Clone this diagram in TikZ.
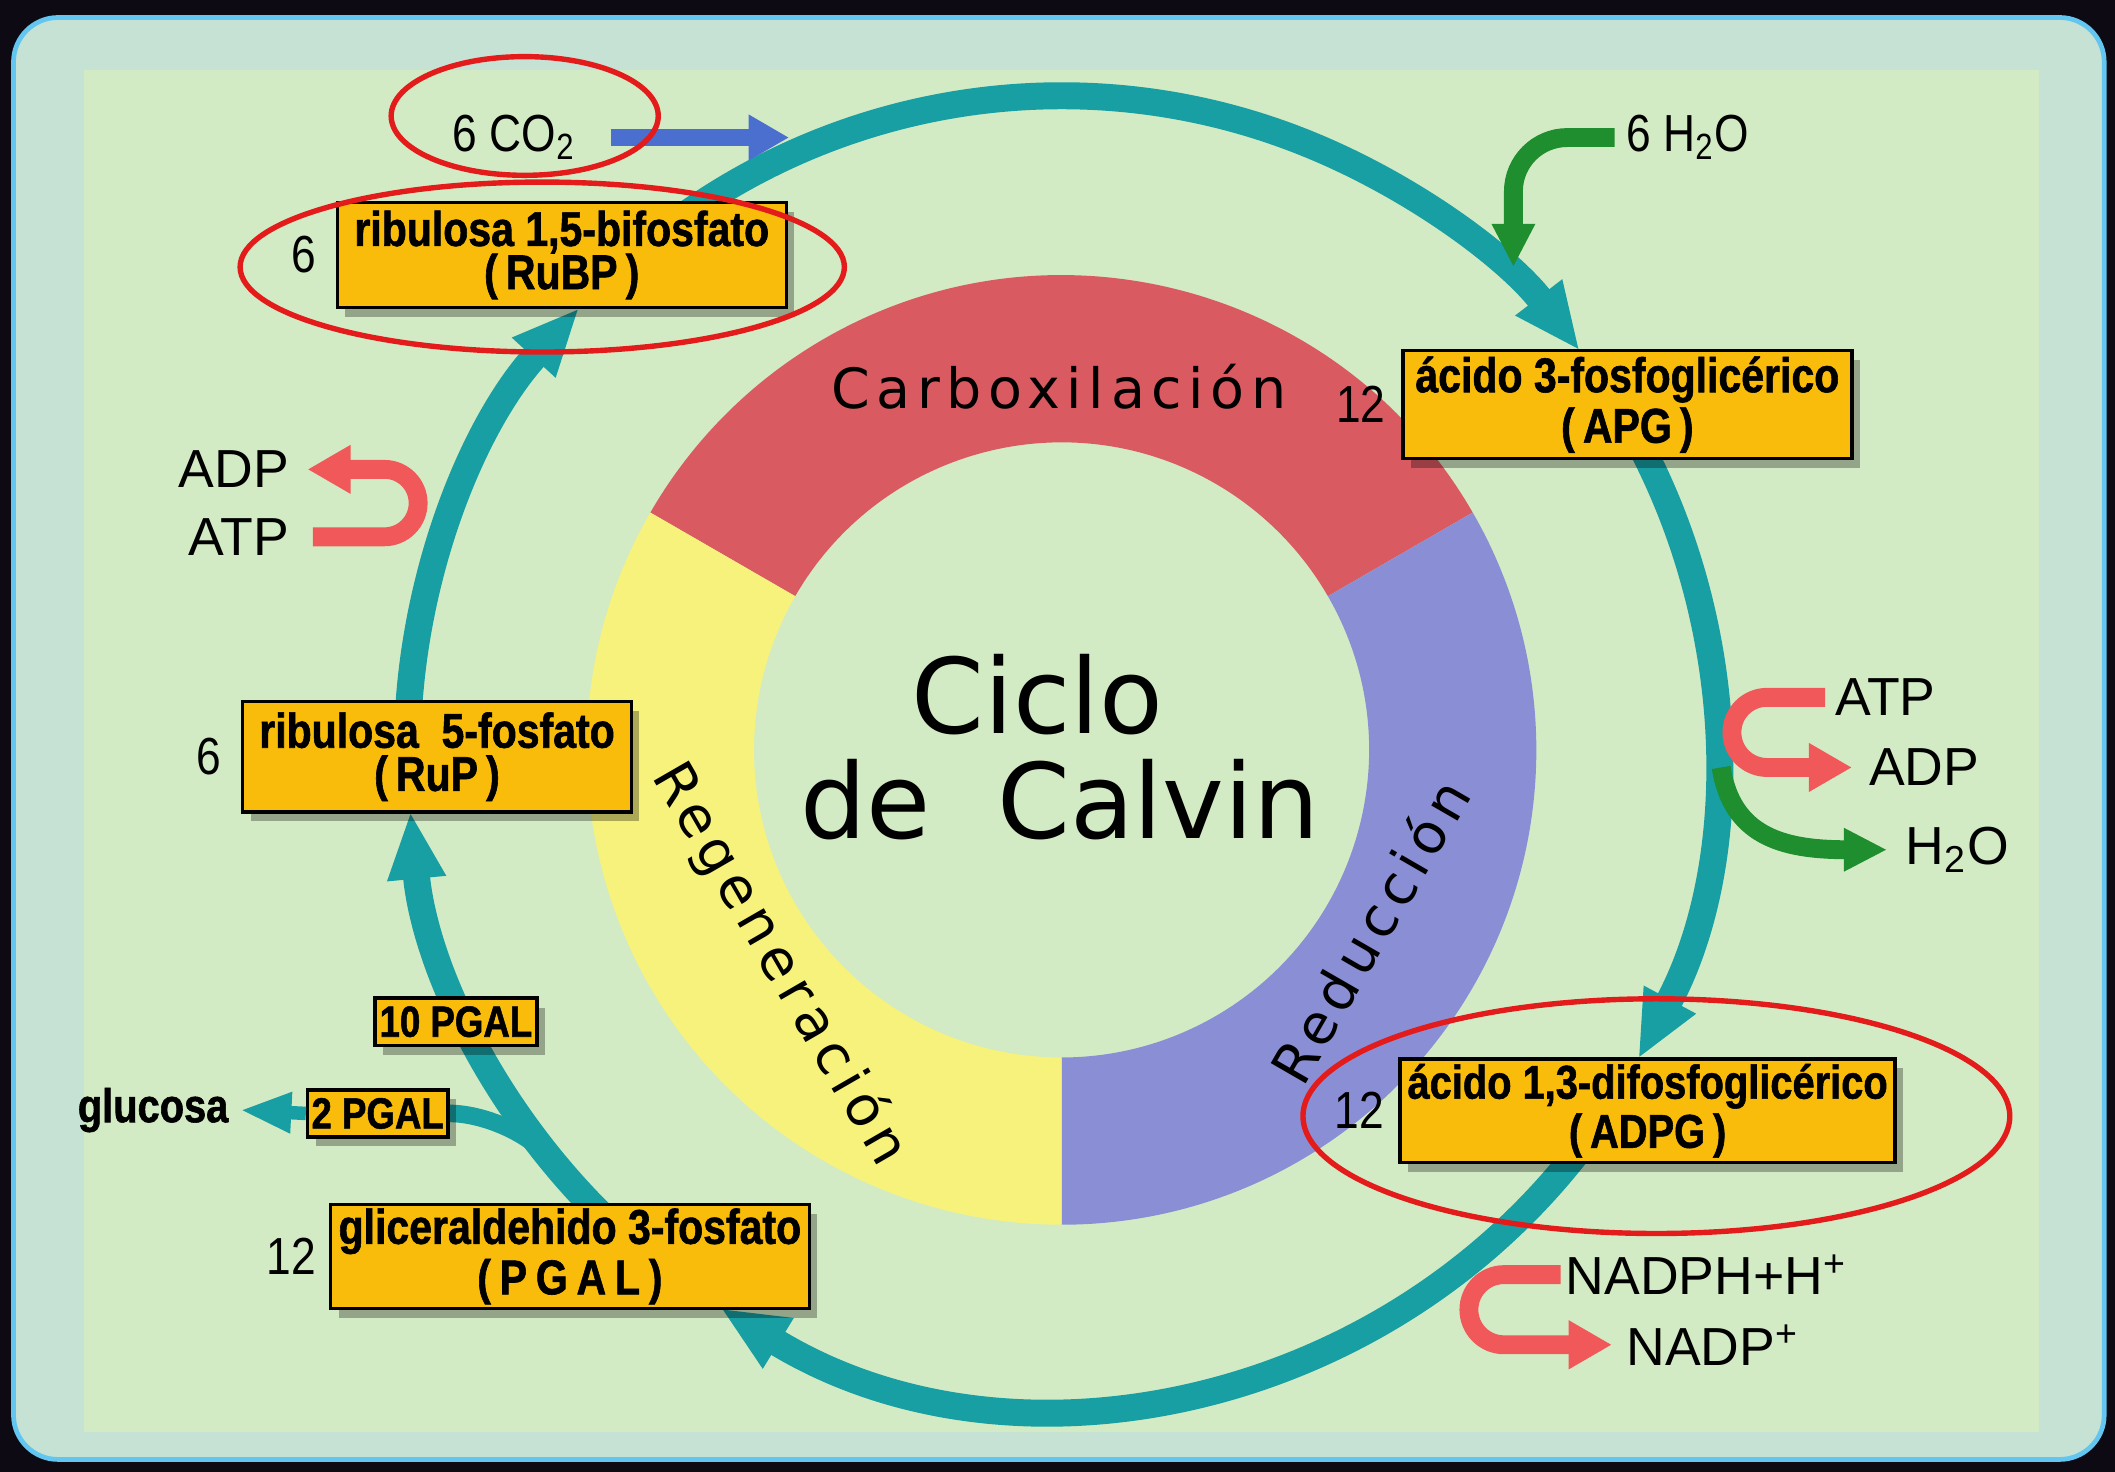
\documentclass[tikz,border=0pt]{standalone}
\usepackage{fontspec}
\setmainfont{Liberation Sans}
\newfontfamily\condfont{Liberation Sans}[FakeStretch=0.84, FakeBold=1.2]
\newfontfamily\numfont{Liberation Sans}[FakeStretch=0.85]
\newfontfamily\phasefont{DejaVu Sans}[LetterSpace=12]
\newfontfamily\titlefont{DejaVu Sans}
\usetikzlibrary{arrows.meta,shadows,calc}

\definecolor{bgdark}{HTML}{0E0A14}
\definecolor{frameblue}{HTML}{62C6F0}
\definecolor{bandgreen}{HTML}{C6E2D4}
\definecolor{panelgreen}{HTML}{D3EBC4}
\definecolor{tealc}{HTML}{179FA3}
\definecolor{boxfill}{HTML}{F9BC0A}
\definecolor{markred}{HTML}{E41B1B}
\definecolor{segred}{HTML}{DA5A62}
\definecolor{segblue}{HTML}{8A8FD5}
\definecolor{segyellow}{HTML}{F6F27C}
\definecolor{arrowred}{HTML}{F0585A}
\definecolor{arrowgreen}{HTML}{1E8E2E}
\definecolor{arrowblue}{HTML}{4B6FCF}

\tikzset{
  box/.style={draw=black, line width=0.25mm, fill=boxfill, inner sep=0pt, align=center,
    font=\condfont\bfseries\fontsize{10.3}{9.1}\selectfont,
    drop shadow={shadow xshift=0.6mm, shadow yshift=-0.7mm, fill=black, opacity=0.3}},
  smallbox/.style={box, font=\condfont\bfseries\fontsize{9.2}{9}\selectfont},
  num/.style={inner sep=0pt, font=\numfont\fontsize{11}{13}\selectfont},
  lbl/.style={inner sep=0pt, font=\fontsize{11.3}{13}\selectfont},
  condlbl/.style={inner sep=0pt, font=\condfont\bfseries\fontsize{10}{11}\selectfont},
  phase/.style={inner sep=0pt, font=\phasefont\fontsize{11.7}{14}\selectfont},
  titletext/.style={inner sep=0pt, font=\titlefont\fontsize{22}{26}\selectfont},
  ringarrow/.style={draw=tealc, line width=2mm, -{Triangle[width=4mm,length=5mm]}},
  tealbranch/.style={draw=tealc, line width=1.3mm},
  tealthin/.style={draw=tealc, line width=1mm, -{Triangle[width=2.8mm,length=3.8mm]}},
  redarrow/.style={draw=arrowred, line width=1.4mm, -{Triangle[width=3.4mm,length=3.2mm]}},
  greenarrow/.style={draw=arrowgreen, line width=1.4mm, -{Triangle[width=3mm,length=3.2mm]}},
  bluearrow/.style={draw=arrowblue, line width=1.3mm, -{Triangle[width=3.2mm,length=3mm]}},
  redmark/.style={draw=markred, line width=0.4mm}
}

\begin{document}
\begin{tikzpicture}[x=0.1mm,y=0.1mm]
% background and frame
\fill[bgdark] (0,0) rectangle (1568,1091);
\useasboundingbox (0,0) rectangle (1568,1091);
\draw[draw=frameblue, line width=0.35mm, fill=bandgreen, rounded corners=3.3mm] (10,9) rectangle (1560,1078);
\fill[panelgreen] (62,29) rectangle (1512,1039);

\coordinate (C) at (787,535);

% coloured phase ring
\fill[segred] ($(C)+(30:352)$) arc[start angle=30,end angle=150,radius=352]
   -- ($(C)+(150:228)$) arc[start angle=150,end angle=30,radius=228] -- cycle;
\fill[segblue] ($(C)+(-90:352)$) arc[start angle=-90,end angle=30,radius=352]
   -- ($(C)+(30:228)$) arc[start angle=30,end angle=-90,radius=228] -- cycle;
\fill[segyellow] ($(C)+(150:352)$) arc[start angle=150,end angle=270,radius=352]
   -- ($(C)+(270:228)$) arc[start angle=270,end angle=150,radius=228] -- cycle;

% phase names and title
\node[phase] (carb) at (785,804) {Carboxilación};
\node[phase, rotate=-60] (regen) at (578,376) {Regeneración};
\node[phase, rotate=60] (reduc) at (1015,401) {Reducción};
\node[titletext] (ciclo) at (769,576) {Ciclo};
\node[titletext] (calvin) at (786,498) {de\ \ Calvin};

% teal cycle arrows
\draw[ringarrow] ($(C)+(128:485)$) arc[start angle=128,end angle=37.6,radius=485];
\draw[ringarrow] ($(C)+(28:485)$) arc[start angle=28,end angle=-28.2,radius=485];
\draw[ringarrow] ($(C)+(-36:485)$) arc[start angle=-36,end angle=-121.4,radius=485];
\draw[ringarrow] ($(C)+(-133:485)$) arc[start angle=-133,end angle=-174.6,radius=485];
\draw[ringarrow] ($(C)+(178:485)$) arc[start angle=178,end angle=137.5,radius=485];

% labels
\node[num, anchor=west] (co2) at (335,989) {6 CO\textsubscript{2}};
\node[num, anchor=west] (h2o6) at (1205,989) {6 H\textsubscript{2}O};
\node[lbl, anchor=east] (adpL) at (215,743) {ADP};
\node[lbl, anchor=east] (atpL) at (215,693) {ATP};
\node[lbl, anchor=west] (atpR) at (1360,574) {ATP};
\node[lbl, anchor=west] (adpR) at (1385,522) {ADP};
\node[lbl, anchor=west] (h2oR) at (1412,461) {H\textsubscript{2}O};
\node[lbl, anchor=west] (nadph) at (1160,146) {NADPH+H\textsuperscript{+}};
\node[lbl, anchor=west] (nadp) at (1205,94) {NADP\textsuperscript{+}};
\node[condlbl, anchor=east] (glucosa) at (170,268) {glucosa};

% side arrows
\coordinate (co2tip) at (585,989);
\draw[bluearrow] ([xshift=2.5mm]co2.east) -- (co2tip);
\coordinate (h2otip) at (1122,893);
\draw[greenarrow] ([xshift=-0.8mm]h2o6.west) -- (1162,989) arc[start angle=90,end angle=180,radius=40] -- (h2otip);
\draw[redarrow] ([xshift=1.7mm]atpL.east) -- (285,693) arc[start angle=-90,end angle=90,radius=25] -- ([xshift=1.3mm]adpL.east);
\draw[redarrow] ([xshift=-0.7mm]atpR.west) -- (1310,574) arc[start angle=90,end angle=270,radius=26] -- ([xshift=-1.2mm]adpR.west);
\coordinate (gstart) at (1276,522);
\draw[greenarrow] (gstart) .. controls (1284,472) and (1320,461) .. ([xshift=-1.3mm]h2oR.west);
\draw[redarrow] ([xshift=-0.3mm]nadph.west) -- (1115,146) arc[start angle=90,end angle=270,radius=26] -- ([xshift=-1mm]nadp.west);

% boxes
\node[box, minimum width=33.3mm, minimum height=7.8mm] (rubp) at (416.5,902) {ribulosa 1,5-bifosfato\\(\,RuBP\,)};
\node[box, minimum width=33.3mm, minimum height=8mm] (apg) at (1206.5,791) {ácido 3-fosfoglicérico\\(\,APG\,)};
\node[box, minimum width=36.7mm, minimum height=7.7mm, font=\condfont\bfseries\fontsize{10}{9.1}\selectfont] (adpg) at (1221.5,267.5) {ácido 1,3-difosfoglicérico\\(\,ADPG\,)};
\node[box, minimum width=35.5mm, minimum height=7.7mm] (pgal) at (422.5,159.5) {gliceraldehido 3-fosfato\\{\addfontfeatures{LetterSpace=18}(PGAL)}};
\node[box, minimum width=28.8mm, minimum height=8.2mm] (rup) at (324,530) {ribulosa\ \ 5-fosfato\\(\,RuP\,)};

% branch to glucose
\coordinate (branchstart) at ($(C)+(-141:485)$);
\draw[tealbranch] (branchstart) .. controls (391,253) and (355,266) .. (332,265.5);
\node[smallbox, minimum width=10.4mm, minimum height=3.5mm] (pgal2) at (280,265.5) {2 PGAL};
\draw[tealthin] (pgal2.west) -- ([xshift=0.8mm]glucosa.east);
\node[smallbox, minimum width=12mm, minimum height=3.5mm] (pgal10) at (338,333.5) {10 PGAL};

% counts
\node[num, anchor=east] (nrubp) at ([xshift=-1.4mm]rubp.west) {6};
\node[num, anchor=east] (napg) at ([xshift=-1.1mm]apg.west) {12};
\node[num, anchor=east] (nadpg) at ([xshift=-1mm]adpg.west) {12};
\node[num, anchor=east] (npgal) at ([xshift=-0.9mm]pgal.west) {12};
\node[num, anchor=east] (nrup) at ([xshift=-1.4mm]rup.west) {6};

% red highlight ellipses
\draw[redmark] (389,1005) ellipse[x radius=99, y radius=44];
\draw[redmark] (402,893) ellipse[x radius=224, y radius=63];
\draw[redmark] (1228,263.5) ellipse[x radius=262, y radius=87];
\end{tikzpicture}
\end{document}
